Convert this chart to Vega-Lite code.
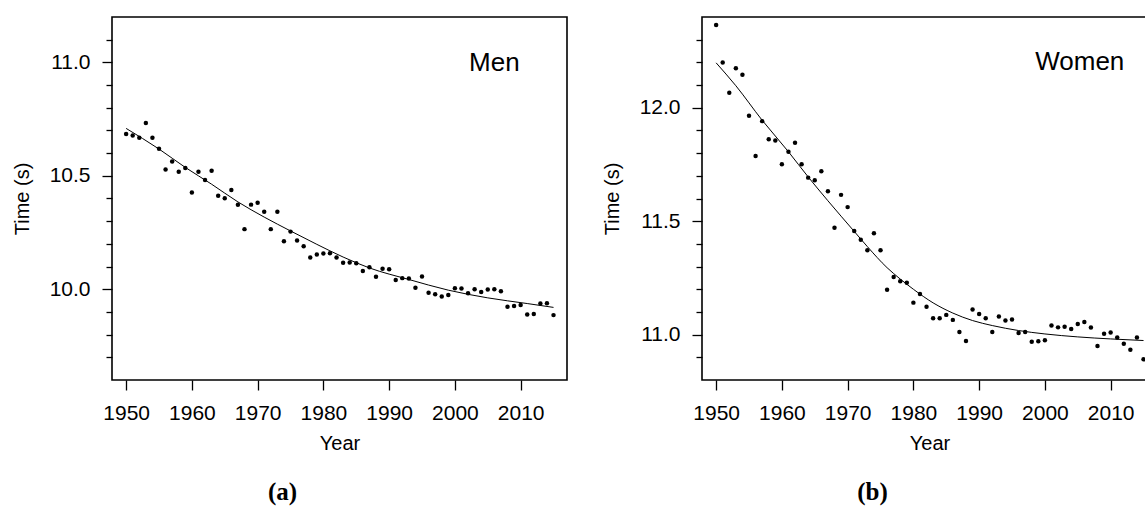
{
  "$schema": "https://vega.github.io/schema/vega-lite/v6.json",
  "padding": {"left": 11, "top": 16, "right": 0, "bottom": 0},
  "spacing": 33,
  "config": {
    "font": "Liberation Sans",
    "view": {"stroke": "#000", "strokeWidth": 1.6},
    "axis": {
      "domain": false, "grid": false,
      "labelFont": "Liberation Sans", "labelFontSize": 21, "labelColor": "#000",
      "titleFont": "Liberation Sans", "titleFontSize": 20, "titleFontWeight": "normal", "titleColor": "#000",
      "tickColor": "#000", "tickWidth": 1.3
    },
    "title": {"orient": "bottom", "font": "Liberation Serif", "fontSize": 25, "fontWeight": "bold", "color": "#000", "dx": -57, "offset": 27}
  },
  "datasets": {
    "men": [
      {"year":1950,"time":10.684},{"year":1951,"time":10.678},{"year":1952,"time":10.668},{"year":1953,"time":10.733},
      {"year":1954,"time":10.668},{"year":1955,"time":10.619},{"year":1956,"time":10.528},{"year":1957,"time":10.563},
      {"year":1958,"time":10.518},{"year":1959,"time":10.534},{"year":1960,"time":10.426},{"year":1961,"time":10.518},
      {"year":1962,"time":10.482},{"year":1963,"time":10.522},{"year":1964,"time":10.412},{"year":1965,"time":10.401},
      {"year":1966,"time":10.437},{"year":1967,"time":10.372},{"year":1968,"time":10.265},{"year":1969,"time":10.373},
      {"year":1970,"time":10.381},{"year":1971,"time":10.342},{"year":1972,"time":10.265},{"year":1973,"time":10.342},
      {"year":1974,"time":10.212},{"year":1975,"time":10.254},{"year":1976,"time":10.215},{"year":1977,"time":10.190},
      {"year":1978,"time":10.140},{"year":1979,"time":10.153},{"year":1980,"time":10.158},{"year":1981,"time":10.159},
      {"year":1982,"time":10.140},{"year":1983,"time":10.117},{"year":1984,"time":10.118},{"year":1985,"time":10.115},
      {"year":1986,"time":10.080},{"year":1987,"time":10.097},{"year":1988,"time":10.055},{"year":1989,"time":10.090},
      {"year":1990,"time":10.088},{"year":1991,"time":10.041},{"year":1992,"time":10.049},{"year":1993,"time":10.047},
      {"year":1994,"time":10.007},{"year":1995,"time":10.056},{"year":1996,"time":9.985},{"year":1997,"time":9.978},
      {"year":1998,"time":9.968},{"year":1999,"time":9.975},{"year":2000,"time":10.004},{"year":2001,"time":10.003},
      {"year":2002,"time":9.982},{"year":2003,"time":10.000},{"year":2004,"time":9.988},{"year":2005,"time":9.999},
      {"year":2006,"time":10.000},{"year":2007,"time":9.991},{"year":2008,"time":9.923},{"year":2009,"time":9.926},
      {"year":2010,"time":9.931},{"year":2011,"time":9.889},{"year":2012,"time":9.891},{"year":2013,"time":9.937},
      {"year":2014,"time":9.938},{"year":2015,"time":9.886}
    ],
    "menfit": [
      {"year":1950,"time":10.709},{"year":1955,"time":10.618},{"year":1959,"time":10.537},{"year":1963,"time":10.463},
      {"year":1967,"time":10.385},{"year":1971,"time":10.318},{"year":1975,"time":10.257},{"year":1979,"time":10.198},
      {"year":1983,"time":10.142},{"year":1987,"time":10.094},{"year":1993,"time":10.043},{"year":1999,"time":9.996},
      {"year":2005,"time":9.962},{"year":2011,"time":9.937},{"year":2015,"time":9.920}
    ],
    "women": [
      {"year":1950,"time":12.365},{"year":1951,"time":12.199},{"year":1952,"time":12.066},{"year":1953,"time":12.174},
      {"year":1954,"time":12.145},{"year":1955,"time":11.965},{"year":1956,"time":11.787},{"year":1957,"time":11.941},
      {"year":1958,"time":11.861},{"year":1959,"time":11.856},{"year":1960,"time":11.751},{"year":1961,"time":11.806},
      {"year":1962,"time":11.846},{"year":1963,"time":11.751},{"year":1964,"time":11.692},{"year":1965,"time":11.680},
      {"year":1966,"time":11.720},{"year":1967,"time":11.632},{"year":1968,"time":11.471},{"year":1969,"time":11.616},
      {"year":1970,"time":11.562},{"year":1971,"time":11.457},{"year":1972,"time":11.418},{"year":1973,"time":11.372},
      {"year":1974,"time":11.447},{"year":1975,"time":11.372},{"year":1976,"time":11.198},{"year":1977,"time":11.254},
      {"year":1978,"time":11.235},{"year":1979,"time":11.229},{"year":1980,"time":11.141},{"year":1981,"time":11.179},
      {"year":1982,"time":11.123},{"year":1983,"time":11.072},{"year":1984,"time":11.072},{"year":1985,"time":11.087},
      {"year":1986,"time":11.065},{"year":1987,"time":11.012},{"year":1988,"time":10.972},{"year":1989,"time":11.111},
      {"year":1990,"time":11.091},{"year":1991,"time":11.072},{"year":1992,"time":11.012},{"year":1993,"time":11.080},
      {"year":1994,"time":11.062},{"year":1995,"time":11.067},{"year":1996,"time":11.007},{"year":1997,"time":11.012},
      {"year":1998,"time":10.969},{"year":1999,"time":10.971},{"year":2000,"time":10.975},{"year":2001,"time":11.040},
      {"year":2002,"time":11.032},{"year":2003,"time":11.035},{"year":2004,"time":11.025},{"year":2005,"time":11.047},
      {"year":2006,"time":11.056},{"year":2007,"time":11.031},{"year":2008,"time":10.950},{"year":2009,"time":11.004},
      {"year":2010,"time":11.009},{"year":2011,"time":10.987},{"year":2012,"time":10.960},{"year":2013,"time":10.933},
      {"year":2014,"time":10.987},{"year":2015,"time":10.891}
    ],
    "womenfit": [
      {"year":1950,"time":12.198},{"year":1953,"time":12.097},{"year":1957,"time":11.945},{"year":1961,"time":11.806},
      {"year":1964,"time":11.695},{"year":1967,"time":11.590},{"year":1971,"time":11.455},{"year":1973,"time":11.388},
      {"year":1976,"time":11.295},{"year":1978,"time":11.245},{"year":1980,"time":11.200},{"year":1983,"time":11.140},
      {"year":1986,"time":11.095},{"year":1989,"time":11.062},{"year":1992,"time":11.040},{"year":1996,"time":11.018},
      {"year":2000,"time":11.003},{"year":2005,"time":10.990},{"year":2010,"time":10.981},{"year":2015,"time":10.974}
    ],
    "menlabel": [{"label": "Men"}],
    "womenlabel": [{"label": "Women"}]
  },
  "hconcat": [
    {
      "width": 455, "height": 363,
      "title": {"text": "(a)"},
      "layer": [
        {"data": {"name": "men"}, "mark": {"type": "circle", "size": 20, "color": "#000", "opacity": 1},
         "encoding": {
          "x": {"field": "year", "type": "quantitative",
            "scale": {"domain": [1947.85, 2017.05], "nice": false, "zero": false},
            "axis": {"title": "Year", "values": [1950,1960,1970,1980,1990,2000,2010], "format": "d", "tickSize": 10, "labelPadding": 12, "titlePadding": 10}},
          "y": {"field": "time", "type": "quantitative",
            "scale": {"domain": [9.6, 11.2], "nice": false, "zero": false},
            "axis": {"title": "Time (s)", "values": [9.7,9.8,9.9,10.0,10.1,10.2,10.3,10.4,10.5,10.6,10.7,10.8,10.9,11.0,11.1],
              "labelExpr": "abs(datum.value*2 - round(datum.value*2)) < 0.001 ? format(datum.value, '.1f') : ''",
              "tickSize": {"condition": {"test": "abs(datum.value*2 - round(datum.value*2)) < 0.001", "value": 10}, "value": 6},
              "labelPadding": 12, "titlePadding": 17}}
        }},
        {"data": {"name": "menfit"}, "mark": {"type": "line", "color": "#000", "strokeWidth": 1, "interpolate": "monotone"},
         "encoding": {
          "x": {"field": "year", "type": "quantitative",
            "axis": {"title": "Year", "values": [1950,1960,1970,1980,1990,2000,2010], "format": "d", "tickSize": 10, "labelPadding": 12, "titlePadding": 10}},
          "y": {"field": "time", "type": "quantitative",
            "axis": {"title": "Time (s)", "values": [9.7,9.8,9.9,10.0,10.1,10.2,10.3,10.4,10.5,10.6,10.7,10.8,10.9,11.0,11.1],
              "labelExpr": "abs(datum.value*2 - round(datum.value*2)) < 0.001 ? format(datum.value, '.1f') : ''",
              "tickSize": {"condition": {"test": "abs(datum.value*2 - round(datum.value*2)) < 0.001", "value": 10}, "value": 6},
              "labelPadding": 12, "titlePadding": 17}}
        }},
        {"data": {"name": "menlabel"},
         "mark": {"type": "text", "fontSize": 26, "font": "Liberation Sans", "color": "#000", "align": "center", "baseline": "alphabetic"},
         "encoding": {
          "x": {"datum": 2006.0, "type": "quantitative",
            "axis": {"title": "Year", "values": [1950,1960,1970,1980,1990,2000,2010], "format": "d", "tickSize": 10, "labelPadding": 12, "titlePadding": 10}},
          "y": {"datum": 10.962, "type": "quantitative",
            "axis": {"title": "Time (s)", "values": [9.7,9.8,9.9,10.0,10.1,10.2,10.3,10.4,10.5,10.6,10.7,10.8,10.9,11.0,11.1],
              "labelExpr": "abs(datum.value*2 - round(datum.value*2)) < 0.001 ? format(datum.value, '.1f') : ''",
              "tickSize": {"condition": {"test": "abs(datum.value*2 - round(datum.value*2)) < 0.001", "value": 10}, "value": 6},
              "labelPadding": 12, "titlePadding": 17}},
          "text": {"field": "label", "type": "nominal"}}}
      ]
    },
    {
      "width": 455, "height": 363,
      "title": {"text": "(b)"},
      "layer": [
        {"data": {"name": "women"}, "mark": {"type": "circle", "size": 20, "color": "#000", "opacity": 1},
         "encoding": {
          "x": {"field": "year", "type": "quantitative",
            "scale": {"domain": [1947.85, 2017.05], "nice": false, "zero": false},
            "axis": {"title": "Year", "values": [1950,1960,1970,1980,1990,2000,2010], "format": "d", "tickSize": 10, "labelPadding": 12, "titlePadding": 10}},
          "y": {"field": "time", "type": "quantitative",
            "scale": {"domain": [10.8, 12.4], "nice": false, "zero": false},
            "axis": {"title": "Time (s)", "values": [10.9,11.0,11.1,11.2,11.3,11.4,11.5,11.6,11.7,11.8,11.9,12.0,12.1,12.2,12.3],
              "labelExpr": "abs(datum.value*2 - round(datum.value*2)) < 0.001 ? format(datum.value, '.1f') : ''",
              "tickSize": {"condition": {"test": "abs(datum.value*2 - round(datum.value*2)) < 0.001", "value": 10}, "value": 6},
              "labelPadding": 12, "titlePadding": 17}}
        }},
        {"data": {"name": "womenfit"}, "mark": {"type": "line", "color": "#000", "strokeWidth": 1, "interpolate": "monotone"},
         "encoding": {
          "x": {"field": "year", "type": "quantitative",
            "axis": {"title": "Year", "values": [1950,1960,1970,1980,1990,2000,2010], "format": "d", "tickSize": 10, "labelPadding": 12, "titlePadding": 10}},
          "y": {"field": "time", "type": "quantitative",
            "axis": {"title": "Time (s)", "values": [10.9,11.0,11.1,11.2,11.3,11.4,11.5,11.6,11.7,11.8,11.9,12.0,12.1,12.2,12.3],
              "labelExpr": "abs(datum.value*2 - round(datum.value*2)) < 0.001 ? format(datum.value, '.1f') : ''",
              "tickSize": {"condition": {"test": "abs(datum.value*2 - round(datum.value*2)) < 0.001", "value": 10}, "value": 6},
              "labelPadding": 12, "titlePadding": 17}}
        }},
        {"data": {"name": "womenlabel"},
         "mark": {"type": "text", "fontSize": 26, "font": "Liberation Sans", "color": "#000", "align": "center", "baseline": "alphabetic"},
         "encoding": {
          "x": {"datum": 2005.3, "type": "quantitative",
            "axis": {"title": "Year", "values": [1950,1960,1970,1980,1990,2000,2010], "format": "d", "tickSize": 10, "labelPadding": 12, "titlePadding": 10}},
          "y": {"datum": 12.166, "type": "quantitative",
            "axis": {"title": "Time (s)", "values": [10.9,11.0,11.1,11.2,11.3,11.4,11.5,11.6,11.7,11.8,11.9,12.0,12.1,12.2,12.3],
              "labelExpr": "abs(datum.value*2 - round(datum.value*2)) < 0.001 ? format(datum.value, '.1f') : ''",
              "tickSize": {"condition": {"test": "abs(datum.value*2 - round(datum.value*2)) < 0.001", "value": 10}, "value": 6},
              "labelPadding": 12, "titlePadding": 17}},
          "text": {"field": "label", "type": "nominal"}}}
      ]
    }
  ]
}
